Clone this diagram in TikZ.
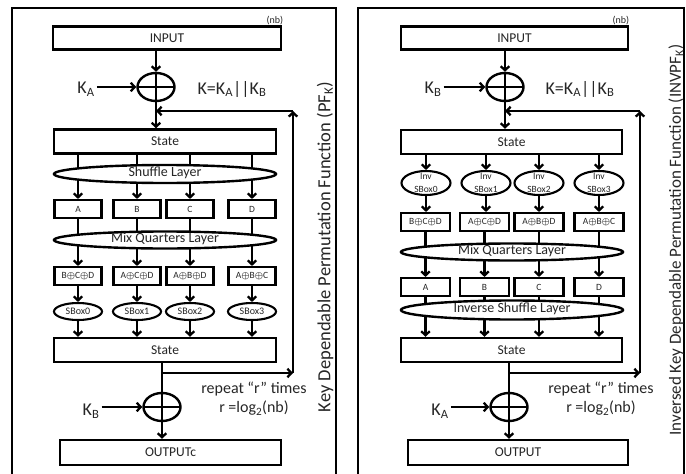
\documentclass[tikz,border=0pt]{standalone}
\usepackage{fontspec}
\setmainfont{Carlito}
\usetikzlibrary{positioning,arrows.meta,shapes.geometric,backgrounds}

\newcommand{\xo}{{\boldmath$\oplus$}}

\begin{document}
\begin{tikzpicture}[
  x=1pt, y=-1pt,
  font=\fontsize{13.5}{15}\selectfont, text=black!85,
  line width=2.4pt,
  bigbox/.style={rectangle, draw, fill=white, minimum width=222pt, minimum height=24pt, inner sep=2pt},
  qbox/.style={rectangle, draw, fill=white, minimum width=47pt, minimum height=18pt, inner sep=1pt,
               line width=2.1pt, font=\fontsize{9.5}{10}\selectfont},
  lyr/.style={ellipse, draw, fill=white, minimum width=222pt, minimum height=18pt, inner sep=0pt,
              text height=5.5pt, text depth=0pt, font=\fontsize{14}{15}\selectfont},
  sbox/.style={ellipse, draw, fill=white, minimum width=48pt, minimum height=17pt, inner sep=0pt,
               line width=2.1pt, font=\fontsize{10}{11}\selectfont},
  isbox/.style={sbox, minimum width=49pt, minimum height=24pt},
  xor/.style={ellipse, draw, fill=white, minimum width=37pt, minimum height=28pt, inner sep=0pt,
              path picture={\draw (path picture bounding box.north) -- (path picture bounding box.south)
                                  (path picture bounding box.west) -- (path picture bounding box.east);}},
  keylbl/.style={inner sep=1pt, font=\fontsize{18}{20}\selectfont},
  note/.style={inner sep=0pt, font=\fontsize{10}{11}\selectfont},
  reptxt/.style={align=center, font=\fontsize{16}{19}\selectfont},
  ttl/.style={rotate=90, font=\fontsize{18.5}{20}\selectfont},
  wire/.style={line width=2.3pt},
  arr/.style={wire, -{Straight Barb[length=4pt,width=8.5pt]}},
  frm/.style={line width=1.6pt}
]
\useasboundingbox (0,0) rectangle (686,474);

% forward permutation
\draw[frm] (12,480) -- (12,8) -- (336,8) -- (336,480);
\node[bigbox, minimum width=228pt, minimum height=23pt] (inp) at (167,38) {INPUT};
\node[note] (nbA) at (275,21) {(nb)};
\node[xor] (xin) at (156,87) {};
\node[keylbl] (ka) at (86,89) {K\textsubscript{A}};
\node[keylbl] (kdef) at (232,89) {K=K\textsubscript{A}||K\textsubscript{B}};
\node[bigbox] (stA) at (165,141.5) {State};
\node[lyr] (shl) at (165,174) {Shuffle Layer};
\node[qbox] (pa) at (78,209) {A};
\node[qbox] (pb) at (137,209) {B};
\node[qbox] (pc) at (190,209) {C};
\node[qbox] (pd) at (252,209) {D};
\node[lyr, minimum height=17pt] (mql) at (165,240) {Mix Quarters Layer};
\node[qbox] (ma) at (78,276) {B\xo C\xo D};
\node[qbox] (mb) at (137,276) {A\xo C\xo D};
\node[qbox] (mc) at (190,276) {A\xo B\xo D};
\node[qbox] (md) at (252,276) {A\xo B\xo C};
\node[sbox] (sa) at (78,311.5) {SBox0};
\node[sbox] (sb) at (137,311.5) {SBox1};
\node[sbox] (sc) at (190,311.5) {SBox2};
\node[sbox] (sd) at (252,311.5) {SBox3};
\node[bigbox] (stB) at (165,350) {State};
\coordinate (loopB) at (293,373);
\coordinate (loopT) at (293,111);
\node[reptxt] (rep) at (254,399) {repeat “r” times\\r =log\textsubscript{2}(nb)};
\node[xor] (xout) at (162,407) {};
\node[keylbl] (kb) at (91,411) {K\textsubscript{B}};
\node[bigbox, minimum width=221pt, minimum height=25pt] (outp) at (170.5,452.5) {OUTPUTc};
\node[ttl] (ttlA) at (325,247) {Key Dependable Permutation Function (PF\textsubscript{K})};

% inverse permutation
\draw[frm] (358,480) -- (358,8) -- (684,8) -- (684,480);
\node[bigbox, minimum width=227pt, minimum height=23pt] (iinp) at (514.5,38) {INPUT};
\node[note] (nbB) at (621,21) {(nb)};
\node[xor] (ixin) at (505,87) {};
\node[keylbl] (ikb) at (433,89) {K\textsubscript{B}};
\node[keylbl] (ikdef) at (580,89) {K=K\textsubscript{A}||K\textsubscript{B}};
\node[bigbox, minimum width=221pt] (istA) at (511.5,142) {State};
\foreach \k/\x/\n in {a/426/0, b/486/1, c/539/2, d/599/3}
  \node[isbox, label={[font=\fontsize{9.5}{13}\selectfont, align=center, text=black!85]center:Inv\\SBox\n}]
    (is\k) at (\x,183) {};
\node[qbox, minimum width=49pt] (ima) at (425.5,222) {B\xo C\xo D};
\node[qbox, minimum width=49pt] (imb) at (484.5,222) {A\xo C\xo D};
\node[qbox, minimum width=49pt] (imc) at (539,222) {A\xo B\xo D};
\node[qbox, minimum width=49pt] (imd) at (599,222) {A\xo B\xo C};
\node[lyr, minimum height=17pt] (imql) at (512,252) {Mix Quarters Layer};
\node[qbox, minimum width=49pt] (ipa) at (425.5,287) {A};
\node[qbox, minimum width=49pt] (ipb) at (484.5,287) {B};
\node[qbox, minimum width=49pt] (ipc) at (539,287) {C};
\node[qbox, minimum width=49pt] (ipd) at (599,287) {D};
\node[lyr, minimum height=19pt] (isl) at (512,310) {Inverse Shuffle Layer};
\node[bigbox, minimum width=221pt] (istB) at (511.5,350) {State};
\coordinate (iloopB) at (640,373);
\coordinate (iloopT) at (640,111);
\node[reptxt] (irep) at (601,399) {repeat “r” times\\r =log\textsubscript{2}(nb)};
\node[xor] (ixout) at (509,407) {};
\node[keylbl] (ika) at (440,411) {K\textsubscript{A}};
\node[bigbox, minimum width=220pt, minimum height=25pt] (ioutp) at (518,452.5) {OUTPUT};
\node[ttl, font=\fontsize{17}{18}\selectfont] (ttlB) at (676,240)
  {Inversed Key Dependable Permutation Function (INVPF\textsubscript{K})};

\begin{pgfonlayer}{background}
  % forward data path
  \draw[arr] (xin.north |- inp.south) -- (xin.north);
  \draw[arr] (ka.east |- xin.west) -- (xin.west);
  \draw[arr] (xin.south) -- (xin.south |- stA.north);
  \foreach \k in {a,b,c,d} {
    \draw[wire] (stA.south -| p\k.north) -- (shl.center -| p\k.north);
    \draw[arr] (shl.center -| p\k.north) -- (p\k.north);
    \draw[wire] (p\k.south) -- (mql.center -| p\k.south);
    \draw[arr] (mql.center -| m\k.north) -- (m\k.north);
    \draw[arr] (m\k.south) -- (s\k.north);
    \draw[arr] (s\k.south) -- (s\k.south |- stB.north);
  }
  \draw[wire] (xout.north |- stB.south) -- (xout.north);
  \draw[arr] (xout.north |- loopB) -- (loopB);
  \draw[arr] (loopB) -- (loopT);
  \draw[arr] (loopT) -- (loopT -| xin.south);
  \draw[arr] (kb.east |- xout.west) -- (xout.west);
  \draw[arr] (xout.south) -- (xout.south |- outp.north);

  % inverse data path
  \draw[arr] (ixin.north |- iinp.south) -- (ixin.north);
  \draw[arr] (ikb.east |- ixin.west) -- (ixin.west);
  \draw[arr] (ixin.south) -- (ixin.south |- istA.north);
  \foreach \k in {a,b,c,d} {
    \draw[arr] (istA.south -| is\k.north) -- (is\k.north);
    \draw[arr] (is\k.south) -- (is\k.south |- im\k.north);
    \draw[wire] (im\k.south) -- (imql.center -| im\k.south);
    \draw[arr] (imql.center -| ip\k.north) -- (ip\k.north);
    \draw[wire] (ip\k.south) -- (isl.center -| ip\k.south);
    \draw[arr] (isl.center -| ip\k.south) -- (ip\k.south |- istB.north);
  }
  \draw[wire] (ixout.north |- istB.south) -- (ixout.north);
  \draw[arr] (ixout.north |- iloopB) -- (iloopB);
  \draw[arr] (iloopB) -- (iloopT);
  \draw[arr] (iloopT) -- (iloopT -| ixin.south);
  \draw[arr] (ika.east |- ixout.west) -- (ixout.west);
  \draw[arr] (ixout.south) -- (ixout.south |- ioutp.north);
\end{pgfonlayer}
\end{tikzpicture}
\end{document}
